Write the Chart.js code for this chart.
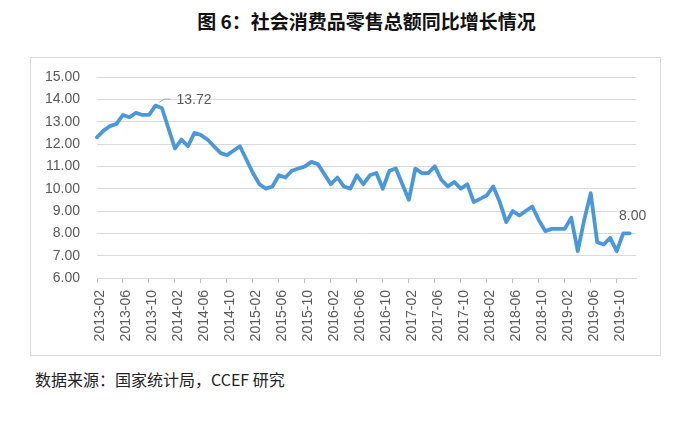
<!DOCTYPE html>
<html>
<head>
<meta charset="utf-8">
<script src="https://cdn.jsdelivr.net/npm/chart.js@4"></script>
<style>
    body { margin: 0; width: 683px; height: 421px; background: #fff; position: relative; overflow: hidden; }
    #title {
        position: absolute; left: 0; top: 7px; width: 733px; text-align: center;
        font-family: "Noto Sans CJK SC", sans-serif; font-weight: bold; font-size: 19px; color: #111;
    }
    #box {
        position: absolute; left: 30px; top: 57px; width: 631px; height: 299px;
        border: 1px solid #d9d9d9; box-sizing: border-box;
    }
    #source {
        position: absolute; left: 35px; top: 367px;
        font-family: "Noto Sans CJK SC", sans-serif; font-size: 16px; color: #222;
    }
</style>
</head>
<body>
<div id="title">图 6：社会消费品零售总额同比增长情况</div>
<div id="box"><canvas id="chartConsumo"></canvas></div>
<div id="source">数据来源：国家统计局，CCEF 研究</div>
<script>
// 社会消费品零售总额同比增速 (%), 2013-02 ... 2020-01，一月份无单独数据
const yoy2013 = [12.3, 12.6, 12.8, 12.9, 13.3, 13.2, 13.4, 13.3, 13.3, 13.72, 13.6]; // 02-12
const yoy2014 = [null, 11.8, 12.2, 11.9, 12.5, 12.4, 12.2, 11.9, 11.6, 11.5, 11.7, 11.9];
const yoy2015 = [null, 10.7, 10.2, 10.0, 10.1, 10.6, 10.5, 10.8, 10.9, 11.0, 11.2, 11.1];
const yoy2016 = [null, 10.2, 10.5, 10.1, 10.0, 10.6, 10.2, 10.6, 10.7, 10.0, 10.8, 10.9];
const yoy2017 = [null, 9.5, 10.9, 10.7, 10.7, 11.0, 10.4, 10.1, 10.3, 10.0, 10.2, 9.4];
const yoy2018 = [null, 9.7, 10.1, 9.4, 8.5, 9.0, 8.8, 9.0, 9.2, 8.6, 8.1, 8.2];
const yoy2019 = [null, 8.2, 8.7, 7.2, 8.6, 9.8, 7.6, 7.5, 7.8, 7.2, 8.0, 8.0];
const yoy2020 = [null];

const valores = [].concat(yoy2013, yoy2014, yoy2015, yoy2016, yoy2017, yoy2018, yoy2019, yoy2020);

// categorias mensuales
let meses = [];
for (let y = 2013; y <= 2020; y++) {
    for (let m = 1; m <= 12; m++) {
        if (y == 2013 && m < 2) continue;
        if (y == 2020 && m > 1) continue;
        meses.push(y + "-" + String(m).padStart(2, "0"));
    }
}

const yTicks = [6, 7, 8, 9, 10, 11, 12, 13, 14, 15];
const calloutIdx = [9, 82]; // 13.72 y 8.00

const gris = "#595959";

const pluginEtiquetas = {
    id: "etiquetas",
    afterDatasetsDraw(chart) {
        const ctx = chart.ctx;
        const meta = chart.getDatasetMeta(0);
        ctx.save();
        ctx.font = "14px 'Liberation Sans', Arial, sans-serif";
        ctx.fillStyle = gris;
        ctx.textBaseline = "middle";
        calloutIdx.forEach((i, n) => {
            const p = meta.data[i];
            const txt = valores[i].toFixed(2);
            if (n == 0) {
                ctx.strokeStyle = "#a6a6a6";
                ctx.lineWidth = 1;
                ctx.beginPath();
                ctx.moveTo(p.x + 4, p.y - 3.5);
                ctx.lineTo(p.x + 9, p.y - 6.5);
                ctx.lineTo(p.x + 15, p.y - 6.5);
                ctx.stroke();
                ctx.textAlign = "left";
                ctx.fillText(txt, p.x + 21, p.y - 5.5);
            } else {
                ctx.textAlign = "center";
                ctx.fillText(txt, p.x + 3, p.y - 17);
            }
        });
        ctx.restore();
    },
};

const configConsumo = {
    type: "line",
    data: {
        labels: meses,
        datasets: [
            {
                label: "社会消费品零售总额同比",
                data: valores,
                borderColor: "#4a98db",
                borderWidth: 3.8,
                pointRadius: 0,
                tension: 0,
                spanGaps: true,
                borderJoinStyle: "round",
                borderCapStyle: "round",
            },
        ],
    },
    options: {
        responsive: true,
        maintainAspectRatio: false,
        animation: false,
        layout: {
            padding: { top: 19, right: 19, left: 0, bottom: 0 },
        },
        plugins: {
            legend: { display: false },
            tooltip: { enabled: false },
        },
        scales: {
            x: {
                offset: false,
                afterFit: (s) => { s.height = 77; },
                border: { color: "#d9d9d9" },
                grid: {
                    drawOnChartArea: false,
                    tickLength: 5,
                    color: (c) => (c.index % 4 == 0 ? "#bfbfbf" : "rgba(0,0,0,0)"),
                },
                ticks: {
                    autoSkip: false,
                    maxRotation: 90,
                    minRotation: 90,
                    padding: 7,
                    labelOffset: 3,
                    color: gris,
                    font: { family: "'Liberation Sans', Arial, sans-serif", size: 14 },
                    callback: function (v, i) {
                        return i % 4 == 0 ? meses[i] : "";
                    },
                },
            },
            y: {
                min: yTicks[0],
                max: yTicks[yTicks.length - 1],
                afterFit: (s) => {
                    s.width = 66;
                    s.paddingTop = 0;
                    s.paddingBottom = 0;
                },
                afterBuildTicks: (s) => { s.ticks = yTicks.map((v) => ({ value: v })); },
                border: { display: false },
                grid: { color: "#d9d9d9", drawTicks: false },
                ticks: {
                    padding: 17,
                    color: gris,
                    font: { family: "'Liberation Sans', Arial, sans-serif", size: 14 },
                    callback: (v) => Number(v).toFixed(2),
                },
            },
        },
    },
    plugins: [pluginEtiquetas],
};

const chartConsumo = new Chart(document.getElementById("chartConsumo"), configConsumo);
</script>
</body>
</html>
